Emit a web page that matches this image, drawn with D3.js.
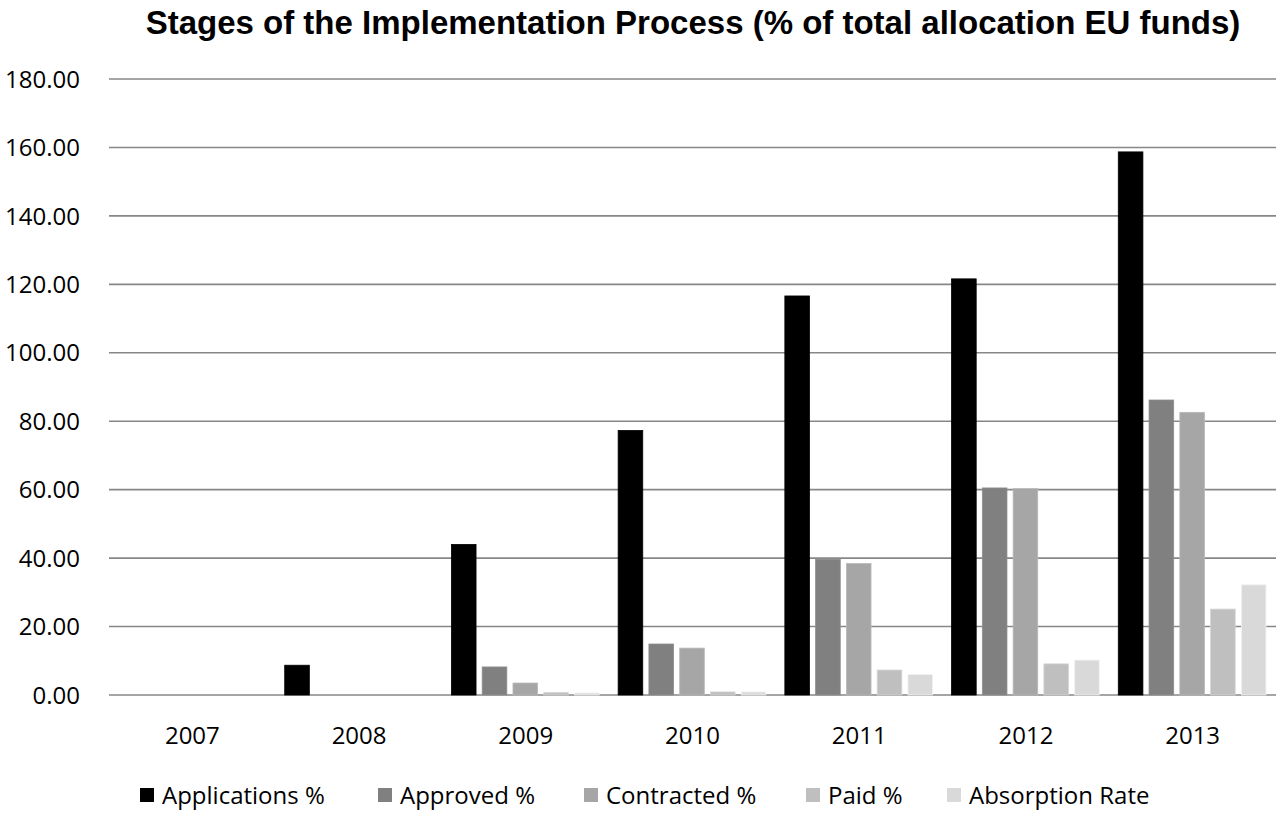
<!DOCTYPE html>
<html>
<head>
<meta charset="utf-8">
<script src="https://cdn.jsdelivr.net/npm/d3@7"></script>
<style>
  body { margin: 0; background: #fff; }
  text { font-family: "Open Sans", Lato, sans-serif; }
</style>
</head>
<body>
<svg id="chart"></svg>
<script>
// Data
const years = ["2007", "2008", "2009", "2010", "2011", "2012", "2013"];
const seriesNames = ["Applications %", "Approved %", "Contracted %", "Paid %", "Absorption Rate"];
const applications = [0, 8.7, 44.0, 77.3, 116.6, 121.6, 158.7];
const approved = [0, 0, 8.2, 14.9, 39.7, 60.5, 86.2];
const contracted = [0, 0, 3.5, 13.7, 38.4, 60.3, 82.6];
const paid = [0, 0, 0.7, 0.9, 7.3, 9.1, 25.1];
const absorption = [0, 0, 0.6, 0.9, 6.0, 10.2, 32.2];
const yTicks = [0, 20, 40, 60, 80, 100, 120, 140, 160, 180];

const colors = ["#000000", "#808080", "#a6a6a6", "#bfbfbf", "#d9d9d9"];
const allSeries = [applications, approved, contracted, paid, absorption];

const W = 1279, H = 813;
const margin = { top: 79, right: 3, bottom: 118, left: 109 };
const labelSize = 24;

const svg = d3.select("#chart").attr("width", W).attr("height", H);

const x0 = d3.scaleBand()
    .domain(years)
    .range([margin.left, W - margin.right])
    .paddingInner(0)
    .paddingOuter(0);

const x1 = d3.scaleBand()
    .domain(d3.range(seriesNames.length))
    .range([9, x0.bandwidth() - 10])
    .paddingInner(0.2);

const y = d3.scaleLinear()
    .domain([0, 180])
    .range([H - margin.bottom, margin.top]);

// Gridlines
svg.append("g")
    .selectAll("line")
    .data(yTicks)
    .enter().append("line")
    .attr("x1", margin.left)
    .attr("x2", W - margin.right)
    .attr("y1", d => y(d))
    .attr("y2", d => y(d))
    .attr("stroke", "#878787")
    .attr("stroke-width", 1.6);

// Y labels
svg.append("g")
    .selectAll("text")
    .data(yTicks)
    .enter().append("text")
    .attr("x", 80)
    .attr("y", d => y(d))
    .attr("dy", "0.36em")
    .attr("text-anchor", "end")
    .attr("font-size", labelSize)
    .attr("fill", "#000")
    .text(d => d3.format(".2f")(d));

// Bars
const groups = svg.append("g")
    .selectAll("g")
    .data(years)
    .enter().append("g")
    .attr("transform", d => `translate(${x0(d)},0)`);

groups.selectAll("rect")
    .data((d, i) => allSeries.map((s, k) => ({ k, v: s[i] })))
    .enter().append("rect")
    .attr("x", d => x1(d.k))
    .attr("width", x1.bandwidth())
    .attr("y", d => y(d.v))
    .attr("height", d => y(0) - y(d.v))
    .attr("fill", d => colors[d.k])
    .attr("stroke", d => d.v > 0 ? d3.color(colors[d.k]).brighter(0.3) : "none")
    .attr("stroke-width", 0.8);

// Year labels
svg.append("g")
    .selectAll("text")
    .data(years)
    .enter().append("text")
    .attr("x", d => x0(d) + x0.bandwidth() / 2)
    .attr("y", 735)
    .attr("dy", "0.36em")
    .attr("text-anchor", "middle")
    .attr("font-size", labelSize)
    .text(d => d);

// Title
svg.append("text")
    .attr("x", 693)
    .attr("y", 34)
    .attr("text-anchor", "middle")
    .attr("font-weight", "bold")
    .attr("font-size", 33)
    .style("font-family", "'Liberation Sans', Arial, sans-serif")
    .text("Stages of the Implementation Process (% of total allocation EU funds)");

// Legend
const legend = svg.append("g");
const legendX = [140, 378, 584, 806, 947];
seriesNames.forEach((name, i) => {
    const g = legend.append("g").attr("transform", `translate(${legendX[i]},795)`);
    g.append("rect")
        .attr("x", 0).attr("y", -7)
        .attr("width", 14).attr("height", 14)
        .attr("fill", colors[i]);
    g.append("text")
        .attr("x", 22)
        .attr("dy", "0.36em")
        .attr("font-size", labelSize)
        .text(name);
});
</script>
</body>
</html>
